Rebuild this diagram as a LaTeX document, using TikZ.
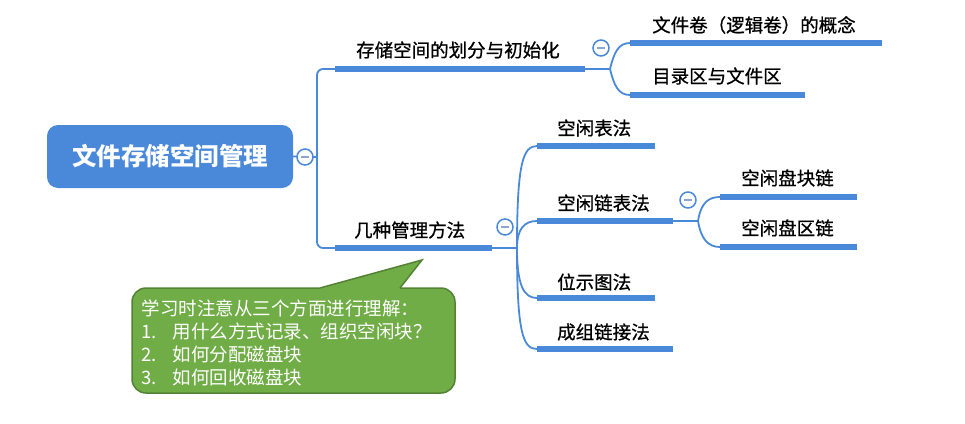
\documentclass[tikz,border=0pt]{standalone}
\usepackage{fontspec}
\setmainfont{Noto Sans CJK SC}
\newfontfamily\topicfont{Noto Sans CJK SC}[FakeBold=0.8]
\usetikzlibrary{calc}
\definecolor{mmblue}{RGB}{74,136,218}
\definecolor{mmgreen}{RGB}{112,173,71}
\definecolor{mmgreenborder}{RGB}{84,130,53}
\definecolor{mmminus}{RGB}{140,165,205}
\begin{document}
\begin{tikzpicture}[x=1pt,y=-1pt,
  topic/.style={anchor=west, inner sep=0pt, text=black, font=\topicfont\fontsize{18.5}{22}\selectfont},
  uline/.style={draw=mmblue, line width=5.5pt},
  conn/.style={draw=mmblue, line width=1.8pt},
  collapse/.style={circle, draw=mmblue, line width=1.5pt, fill=white, minimum size=16pt, inner sep=0pt,
    path picture={\draw[mmminus, line width=2.5pt] ([xshift=-4pt]path picture bounding box.center) -- ([xshift=4pt]path picture bounding box.center);}},
  rootbox/.style={rectangle, rounded corners=11pt, fill=mmblue, text=white, inner sep=0pt,
    minimum width=246pt, minimum height=63pt, font=\bfseries\fontsize{24.5}{28}\selectfont},
  notebox/.style={rectangle, rounded corners=14pt, fill=mmgreen, draw=mmgreenborder, line width=1.5pt,
    minimum width=323pt, minimum height=105pt, inner sep=0pt},
  notetext/.style={anchor=north west, inner sep=0pt, text=white, align=left,
    font=\fontsize{18.5}{23}\selectfont}
]
\useasboundingbox (0,0) rectangle (965,423);

% coordinates
\coordinate (trunk0) at (317,157);
\coordinate (u1s) at (335,69);  \coordinate (u1e) at (585,69);  \coordinate (b1) at (610,69);
\coordinate (u2s) at (335,248); \coordinate (u2e) at (492,248); \coordinate (b2) at (517,248);
\coordinate (u11s) at (630,43); \coordinate (u11e) at (882,43);
\coordinate (u12s) at (630,95); \coordinate (u12e) at (805,95);
\coordinate (u21s) at (537,146); \coordinate (u21e) at (655,146);
\coordinate (u22s) at (537,221); \coordinate (u22e) at (673,221); \coordinate (b22) at (698,221);
\coordinate (u23s) at (537,298); \coordinate (u23e) at (655,298);
\coordinate (u24s) at (537,349); \coordinate (u24e) at (673,349);
\coordinate (u221s) at (720,197); \coordinate (u221e) at (857,197);
\coordinate (u222s) at (720,247); \coordinate (u222e) at (857,247);

% root
\node[rootbox] (root) at (170,156.5) {文件存储空间管理};

% connectors
\draw[conn] (root.east) -- (trunk0);
\draw[conn, rounded corners=6pt] (u1s) -| (trunk0) |- (u2s);
\draw[conn] (u1e) -- (b1);
\draw[conn] (b1) .. controls +(4,-16) and +(-12,0) .. (u11s);
\draw[conn] (b1) .. controls +(4,16) and +(-12,0) .. (u12s);
\draw[conn] (u2e) -- (b2);
\draw[conn] (b2) .. controls +(0,-85) and +(-14,0) .. (u21s);
\draw[conn] (b2) .. controls +(0,-20) and +(-12,0) .. (u22s);
\draw[conn] (b2) .. controls +(0,38) and +(-13,0) .. (u23s);
\draw[conn] (b2) .. controls +(0,85) and +(-14,0) .. (u24s);
\draw[conn] (u22e) -- (b22);
\draw[conn] (b22) .. controls +(3,-18) and +(-12,0) .. (u221s);
\draw[conn] (b22) .. controls +(3,18) and +(-12,0) .. (u222s);

% underlines
\foreach \n in {1,2,11,12,21,22,23,24,221,222}{
  \draw[uline] (u\n s) -- (u\n e);
}

% topic texts
\node[topic] (t1) at (356,50) {存储空间的划分与初始化};
\node[topic] (t2) at (354,230) {几种管理方法};
\node[topic] (t11) at (652,25) {文件卷（逻辑卷）的概念};
\node[topic] (t12) at (652,76) {目录区与文件区};
\node[topic] (t21) at (557,128) {空闲表法};
\node[topic] (t22) at (557,203) {空闲链表法};
\node[topic] (t23) at (557,282) {位示图法};
\node[topic] (t24) at (557,332) {成组链接法};
\node[topic] (t221) at (741,178) {空闲盘块链};
\node[topic] (t222) at (741,228) {空闲盘区链};

% collapse markers
\node[collapse] (c0) at (305,157) {};
\node[collapse] (c1) at (601,48) {};
\node[collapse] (c2) at (505,227) {};
\node[collapse] (c22) at (688,200) {};

% callout
\node[notebox] (note) at (293.5,340.5) {};
\fill[mmgreen] (320,288) -- (422,260) -- (400,288) -- (400,290) -- (320,290) -- cycle;
\draw[mmgreenborder, line width=1.5pt, line join=miter] (320,288) -- (422,260) -- (400,288);
\node[notetext] (notetxt) at (141.5,300) {学习时注意从三个方面进行理解：\\
\makebox[31pt][l]{1.}用什么方式记录、组织空闲块？\\
\makebox[31pt][l]{2.}如何分配磁盘块\\
\makebox[31pt][l]{3.}如何回收磁盘块};
\end{tikzpicture}
\end{document}
